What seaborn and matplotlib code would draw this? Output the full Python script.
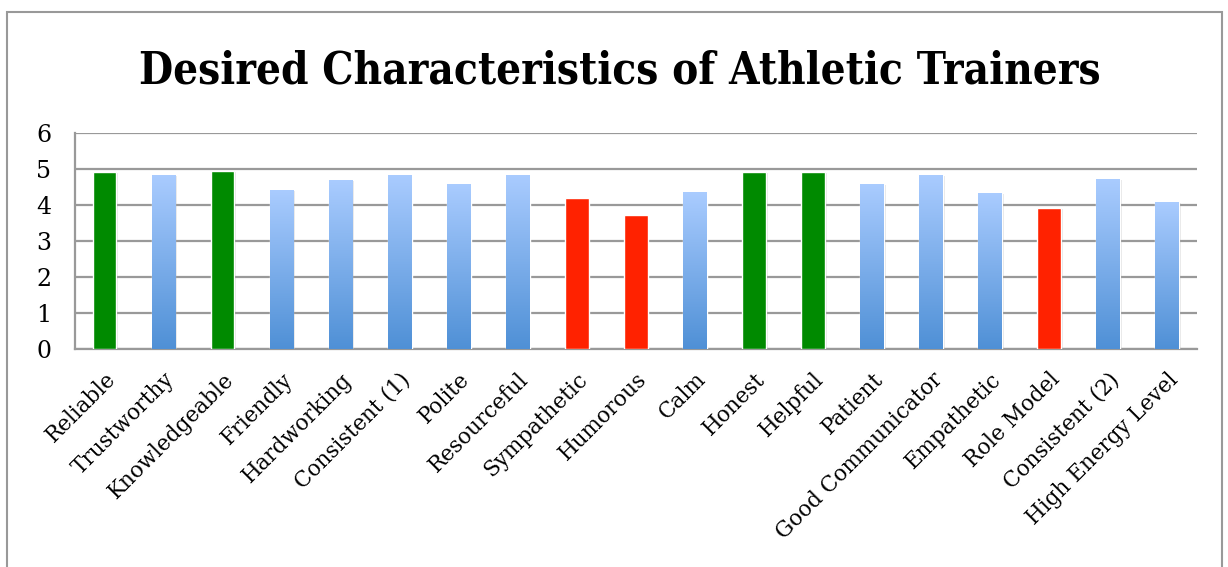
import numpy as np
import pandas as pd
import matplotlib
matplotlib.use("Agg")
import matplotlib.pyplot as plt
import seaborn as sns
from matplotlib.patches import Rectangle
from matplotlib.colors import LinearSegmentedColormap

# data
traits = ["Reliable", "Trustworthy", "Knowledgeable", "Friendly", "Hardworking",
          "Consistent (1)", "Polite", "Resourceful", "Sympathetic", "Humorous",
          "Calm", "Honest", "Helpful", "Patient", "Good Communicator",
          "Empathetic", "Role Model", "Consistent (2)", "High Energy Level"]
scores = [4.92, 4.84, 4.95, 4.42, 4.70, 4.84, 4.59, 4.84, 4.20, 3.72,
          4.36, 4.92, 4.92, 4.59, 4.84, 4.34, 3.92, 4.73, 4.09]
group = ["top", "mid", "top", "mid", "mid", "mid", "mid", "mid", "low", "low",
         "mid", "top", "top", "mid", "mid", "mid", "low", "mid", "mid"]

colors = {"top": "#008A00", "mid": "#7FB0EC", "low": "#FF2200"}
blue_grad = LinearSegmentedColormap.from_list("bg", ["#4F90D6", "#AACCFF"])

df = pd.DataFrame({"trait": traits, "score": scores, "group": group})

sns.set_style("white")
plt.rcParams["font.family"] = ["DejaVu Serif"]
plt.rcParams["text.color"] = "black"
plt.rcParams["xtick.color"] = "black"
plt.rcParams["ytick.color"] = "black"

fig = plt.figure(figsize=(12.28, 5.67), dpi=100)
ax = fig.add_axes([0.0611, 0.3845, 0.9134, 0.3809])

sns.barplot(data=df, x="trait", y="score", hue="group", palette=colors,
            dodge=False, width=0.4, saturation=1, legend=False, ax=ax, zorder=3)

# gradient fill for the blue bars (match patch to its category by position)
for p in list(ax.patches):
    w, h = p.get_width(), p.get_height()
    if h == 0 or np.isnan(h):
        continue
    x0, y0 = p.get_x(), p.get_y()
    # soft shadow behind each bar
    ax.add_patch(Rectangle((x0 + 0.03, y0), w, h - 0.03, color="#000000",
                           alpha=0.10, zorder=2, linewidth=0))
    idx = int(round(x0 + w / 2))
    if df["group"][idx] != "mid":
        continue
    p.set_facecolor("none")
    grad = np.linspace(0, 1, 256).reshape(-1, 1)
    im = ax.imshow(grad, cmap=blue_grad, origin="lower", aspect="auto",
                   extent=[x0, x0 + w, y0, y0 + h], zorder=3)
    im.set_clip_path(p)

ax.set_xlim(-0.5, len(traits) - 0.5)
ax.set_ylim(0, 6)
ax.set_yticks(range(0, 7))
ax.yaxis.grid(True, color="#999999", linewidth=1.6, zorder=0)
ax.set_axisbelow(True)
ax.set_xlabel("")
ax.set_ylabel("")

for s in ["top", "right"]:
    ax.spines[s].set_visible(False)
for s in ["left", "bottom"]:
    ax.spines[s].set_color("#999999")
    ax.spines[s].set_linewidth(1.6)

ax.set_xticks(np.arange(-0.5, len(traits), 1.0), minor=True)
ax.tick_params(axis="x", which="major", length=0, pad=14, labelsize=15.5)
ax.tick_params(axis="x", which="minor", length=7, width=1.6, color="#999999",
               direction="out")
ax.tick_params(axis="y", length=7, width=1.6, color="#999999", direction="out",
               labelsize=17, pad=10, labelcolor="black")
plt.setp(ax.get_xticklabels(), rotation=45, ha="right", rotation_mode="anchor")

fig.text(0.505, 0.875, "Desired Characteristics of Athletic Trainers",
         ha="center", va="center", fontsize=31.5, fontweight="bold",
         fontstretch="condensed", color="black")

# outer chart frame
fig.patches.append(Rectangle((7 / 1228, -0.05), 1215 / 1228, 1 - 12 / 567 + 0.05,
                             transform=fig.transFigure, fill=False,
                             edgecolor="#999999", linewidth=1.5))

fig.savefig("out.png", dpi=100)
